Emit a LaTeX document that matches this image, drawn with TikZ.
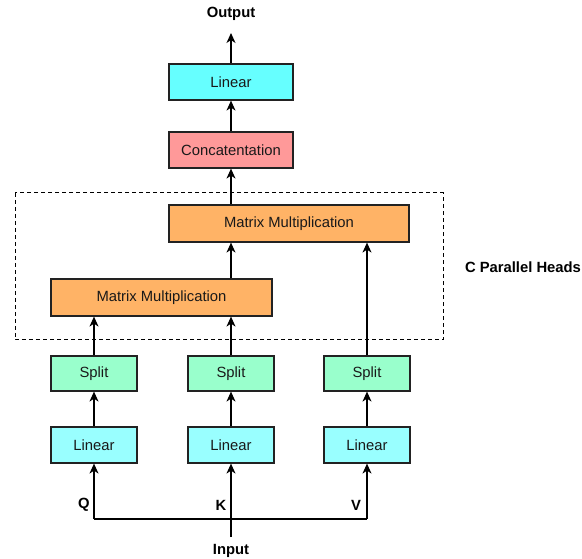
\documentclass[tikz,border=0pt]{standalone}
\usepackage{fontspec}
\setmainfont{Liberation Sans}
\usetikzlibrary{arrows.meta}
\definecolor{cyanA}{HTML}{66FFFF}
\definecolor{cyanB}{HTML}{99FFFF}
\definecolor{pinkA}{HTML}{FF9999}
\definecolor{orangeA}{HTML}{FFB366}
\definecolor{greenA}{HTML}{99FFCC}
\definecolor{lineA}{HTML}{222222}
\tikzset{
  box/.style={draw=lineA, line width=1.2pt, inner sep=0pt, font=\fontsize{14.8}{17}\selectfont, text=black!90},
  arr/.style={draw=black, line width=1.2pt, -{Stealth[length=10pt,width=9pt,inset=3pt]}},
  plain/.style={draw=black, line width=1.2pt},
  lbl/.style={font=\fontsize{14.8}{17}\selectfont\bfseries, inner sep=0pt}
}
\begin{document}
\begin{tikzpicture}[x=1pt,y=-1pt]
\useasboundingbox (0,0) rectangle (582,559);
% dashed region
\draw[dashed, line width=1pt, dash pattern=on 4pt off 3pt] (15,193) rectangle (443,340);
% nodes
\node[box, fill=cyanA, minimum width=124pt, minimum height=36pt] (lin) at (231,82) {Linear};
\node[box, fill=pinkA, minimum width=124pt, minimum height=36pt] (cc) at (231,150) {Concatentation};
\node[box, fill=orangeA, minimum width=240pt, minimum height=37pt] (mmB) at (289,223.5) {Matrix Multiplication};
\node[box, fill=orangeA, minimum width=221pt, minimum height=37pt] (mmA) at (161.5,297.5) {Matrix Multiplication};
\foreach \n/\x in {Q/94,K/231,V/367}{
  \node[box, fill=greenA, minimum width=86pt, minimum height=35pt] (s\n) at (\x,373.5) {Split};
  \node[box, fill=cyanB, minimum width=86pt, minimum height=36pt] (l\n) at (\x,445) {Linear};
}
\node[lbl] (out) at (231,14) {Output};
\node[lbl] (inp) at (231,551) {Input};
\node[lbl] (heads) at (523,267) {C Parallel Heads};
\node[lbl] (q) at (84,505) {Q};
\node[lbl] (k) at (221,505) {K};
\node[lbl] (v) at (356,505) {V};
\coordinate (outEnd) at (231,33);
\coordinate (inStart) at (231,537);
\coordinate (hQ) at (94,519);
\coordinate (hV) at (367,519);
% connectors
\draw[arr] (lin.north) -- (outEnd);
\draw[arr] (cc.north) -- (lin.south);
\draw[arr] (mmB.north -| cc.south) -- (cc.south);
\draw[arr] (mmA.north -| cc.south) -- (mmB.south -| cc.south);
\draw[arr] (sQ.north) -- (sQ.north |- mmA.south);
\draw[arr] (sK.north) -- (sK.north |- mmA.south);
\draw[arr] (sV.north) -- (sV.north |- mmB.south);
\foreach \n in {Q,K,V}{
  \draw[arr] (l\n.north) -- (s\n.south);
}
\draw[plain] (hQ) -- (hV);
\draw[arr] (hQ) -- (lQ.south);
\draw[arr] (hV) -- (lV.south);
\draw[arr] (inStart) -- (lK.south);
\end{tikzpicture}
\end{document}
